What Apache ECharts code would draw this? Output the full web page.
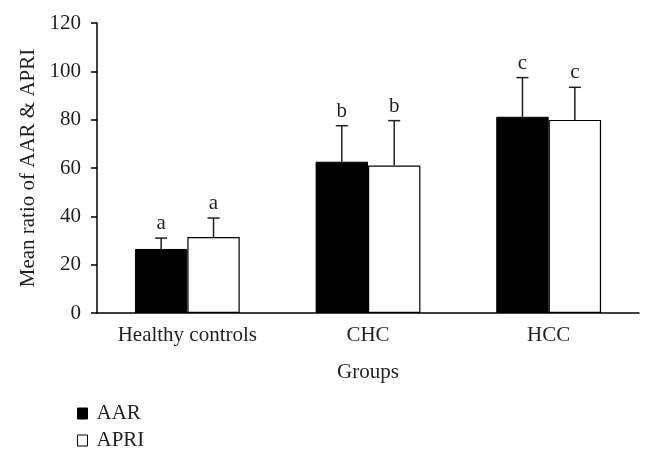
<!DOCTYPE html>
<html><head><meta charset="utf-8">
<script src="https://cdn.jsdelivr.net/npm/echarts@6/dist/echarts.min.js"></script>
<style>html,body{margin:0;padding:0;background:#fff}#c{width:654px;height:460px}</style>
</head><body><div id="c"></div>
<script>
var categories = ['Healthy controls', 'CHC', 'HCC'];
var aarMean = [26.5, 62.6, 81.2];
var aarUpper = [31, 77.5, 97.4];
var apriMean = [31.4, 61, 79.9];
var apriUpper = [39.3, 79.6, 93.4];
var aarLetters = ['a', 'b', 'c'];
var apriLetters = ['a', 'b', 'c'];
var yTicks = [0, 20, 40, 60, 80, 100, 120];

var FONT = '"Liberation Serif", "Times New Roman", serif';
var TXT = '#231f20';
var GAP = 0.42;
var FS = 21;

function errData(means, uppers, letters) {
  return means.map(function (m, i) { return [i, m, uppers[i], letters[i]]; });
}
function errRender(side) {
  return function (params, api) {
    var cat = api.value(0);
    var band = api.size([1, 0])[0];
    var bw = band * (1 - GAP) / 2;
    var base = api.coord([cat, api.value(1)]);
    var top = api.coord([cat, api.value(2)]);
    var x = base[0] + side * bw / 2;
    var cap = 6;
    var st = { stroke: TXT, lineWidth: 1.5 };
    return {
      type: 'group',
      children: [
        { type: 'line', shape: { x1: x, y1: base[1], x2: x, y2: top[1] }, style: st },
        { type: 'line', shape: { x1: x - cap, y1: top[1], x2: x + cap, y2: top[1] }, style: st },
        { type: 'text', style: { text: api.value(3), x: x, y: top[1] - 4, textAlign: 'center', textVerticalAlign: 'bottom', font: '21px ' + FONT, fill: TXT } }
      ]
    };
  };
}

var chart = echarts.init(document.getElementById('c'), null, { renderer: 'canvas' });
chart.setOption({
  animation: false,
  backgroundColor: '#fff',
  textStyle: { fontFamily: FONT, color: TXT },
  grid: { left: 97, right: 15, top: 23, bottom: 147 },
  legend: {
    orient: 'vertical', left: 72, top: 398, itemWidth: 10, itemHeight: 11, itemGap: 6,
    icon: 'rect',
    data: [
      { name: 'AAR', itemStyle: { color: '#000', borderColor: '#000', borderWidth: 1 } },
      { name: 'APRI', itemStyle: { color: '#fff', borderColor: '#000', borderWidth: 1 } }
    ],
    textStyle: { fontFamily: FONT, fontSize: FS, color: TXT, padding: [0, 0, 0, 4] }
  },
  xAxis: {
    type: 'category', data: categories,
    name: 'Groups', nameLocation: 'middle', nameGap: 49,
    nameTextStyle: { fontFamily: FONT, fontSize: FS, color: TXT },
    axisLine: { lineStyle: { color: '#000', width: 1.5 } },
    axisTick: { interval: 0, length: 5, lineStyle: { color: '#000', width: 1.5 } },
    axisLabel: { interval: 0, hideOverlap: false, fontFamily: FONT, fontSize: FS, color: TXT, margin: 12 }
  },
  yAxis: {
    type: 'value', min: yTicks[0], max: yTicks[yTicks.length - 1], interval: 20,
    name: 'Mean ratio of AAR & APRI', nameLocation: 'middle', nameGap: 58,
    nameTextStyle: { fontFamily: FONT, fontSize: FS, color: TXT },
    axisLine: { show: true, lineStyle: { color: '#000', width: 1.5 } },
    axisTick: { show: true, length: 6, lineStyle: { color: '#000', width: 1.5 } },
    splitLine: { show: false },
    axisLabel: { fontFamily: FONT, fontSize: FS, color: TXT, margin: 16 }
  },
  series: [
    { name: 'AAR', type: 'bar', data: aarMean, barGap: 0, barCategoryGap: (GAP * 100) + '%',
      itemStyle: { color: '#000', borderColor: '#000', borderWidth: 1 } },
    { name: 'APRI', type: 'bar', data: apriMean, barGap: 0, barCategoryGap: (GAP * 100) + '%',
      itemStyle: { color: '#fff', borderColor: '#000', borderWidth: 1.2 } },
    { type: 'custom', renderItem: errRender(-1), data: errData(aarMean, aarUpper, aarLetters), z: 5 },
    { type: 'custom', renderItem: errRender(1), data: errData(apriMean, apriUpper, apriLetters), z: 5 }
  ]
});
</script>
</body></html>
